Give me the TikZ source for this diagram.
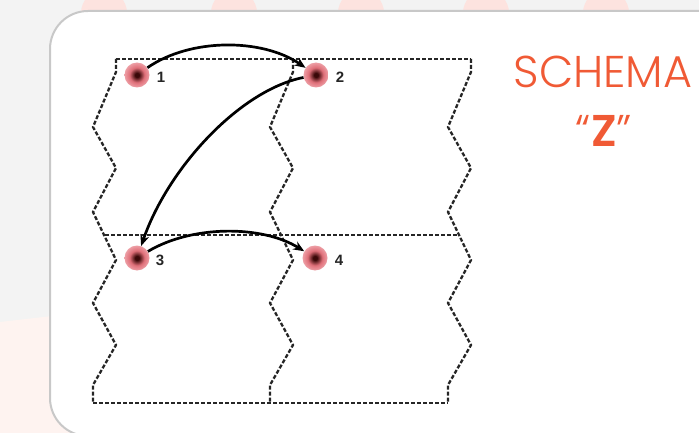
\documentclass[tikz,border=0pt]{standalone}
\usepackage{fontspec}
\setsansfont{Liberation Sans}
\newfontfamily\titlefont{Poppins}[UprightFont=* Light, BoldFont=* SemiBold]
\usetikzlibrary{arrows.meta}
\definecolor{bgc}{HTML}{F3F3F3}
\definecolor{blobc}{HTML}{FDE3DF}
\definecolor{pinkbg}{HTML}{FEF3F0}
\definecolor{borderc}{HTML}{C8C8C8}
\definecolor{titlec}{HTML}{F05A35}
\definecolor{gridc}{HTML}{262626}
\definecolor{dotc}{HTML}{3A0808}
\definecolor{dotm}{HTML}{E0707A}
\definecolor{doto}{HTML}{F6BFC3}
\pgfdeclareradialshading{redot}{\pgfpointorigin}{color(0bp)=(dotc); color(4bp)=(dotc); color(15bp)=(dotm); color(32bp)=(doto); color(50bp)=(white)}
\tikzset{
  gridline/.style={draw=gridc, line width=2.3pt, dash pattern=on 4pt off 2pt},
  dotnode/.style={circle, minimum size=25pt, inner sep=0pt, shading=redot},
  numlbl/.style={font=\sffamily\bfseries\fontsize{15}{16}\selectfont, text=black!85, inner sep=0pt},
  flow/.style={draw=black, line width=2.7pt, -{Stealth[length=11pt,width=9pt]}},
}
\begin{document}
\begin{tikzpicture}[x=1pt,y=-1pt]
\useasboundingbox (0,0) rectangle (699,433);
\fill[bgc] (0,0) rectangle (699,433);
% pink background blobs
\foreach \cx in {104,234,361,486,606} \fill[blobc] (\cx,13) circle (23);
\fill[pinkbg] (0,322) -- (140,306) -- (140,433) -- (0,433) -- cycle;
% panel
\draw[draw=borderc, line width=2pt, fill=white, rounded corners=38pt] (50,11) rectangle (760,436);
% grid
\foreach \dx in {0,177,355} {
  \draw[gridline, line join=round] ([xshift=\dx pt]116,59) -- ([xshift=\dx pt]116,72) -- ([xshift=\dx pt]93,127) -- ([xshift=\dx pt]116,168) -- ([xshift=\dx pt]93,212) -- ([xshift=\dx pt]116,260) -- ([xshift=\dx pt]93,303) -- ([xshift=\dx pt]116,345) -- ([xshift=\dx pt]93,385) -- ([xshift=\dx pt]93,403);
}
\draw[gridline] (116,59) -- (471,59);
\draw[gridline] (105,235) -- (459,235);
\draw[gridline] (93,403) -- (448,403);
% dots
\node[dotnode] (d1) at (137,75) {};
\node[dotnode] (d2) at (316,75) {};
\node[dotnode] (d3) at (137,258) {};
\node[dotnode] (d4) at (315,258) {};
\node[numlbl] (n1) at (161,77) {1};
\node[numlbl] (n2) at (340,77) {2};
\node[numlbl] (n3) at (160,260) {3};
\node[numlbl] (n4) at (339,260) {4};
% arrows
\draw[flow] (d1) .. controls (190,38) and (262,38) .. (d2);
\draw[flow] (d2) .. controls (240,90) and (168,168) .. (d3);
\draw[flow] (d3) .. controls (192,225) and (262,225) .. (d4);
% title
\node[text=titlec, font=\titlefont\fontsize{44.5}{48}\selectfont, anchor=base, inner sep=0pt] (t1) at (603,88) {SCHEMA};
\node[text=titlec, font=\titlefont\fontsize{44.5}{48}\selectfont, anchor=base, inner sep=0pt] (t2) at (604,147) {“\textbf{Z}”};
\end{tikzpicture}
\end{document}
